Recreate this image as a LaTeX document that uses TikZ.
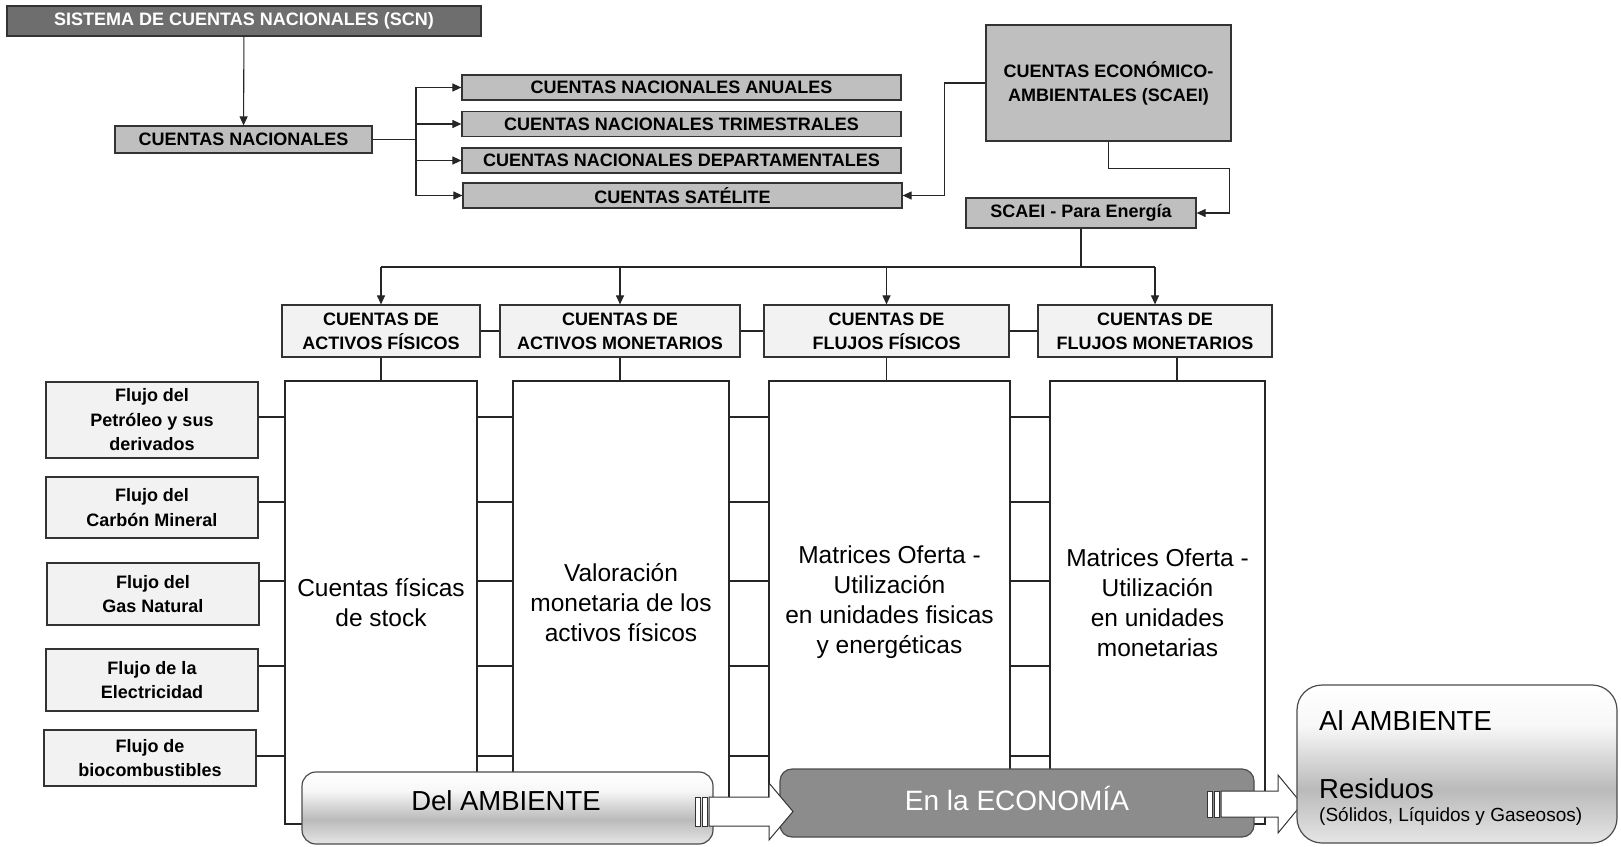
\documentclass[tikz,border=0pt]{standalone}
\usepackage{fontspec}
\setmainfont{Liberation Sans}
\usetikzlibrary{arrows.meta}

\pgfdeclareverticalshading{tubo}{100bp}{color(0bp)=(black!10); color(25bp)=(black!10); color(42bp)=(black!27); color(62bp)=(black!3); color(75bp)=(white); color(100bp)=(white)}

\tikzset{
  caja/.style={draw=black!80, line width=1.2pt, inner sep=0pt, align=center,
    font=\fontsize{18}{24}\selectfont\bfseries},
  gris/.style={caja, fill=black!25},
  oscura/.style={caja, fill=black!57, text=white},
  clara/.style={caja, fill=black!5},
  grande/.style={draw=black!85, line width=1.1pt, fill=white, inner sep=0pt, align=center,
    font=\fontsize{24.5}{30}\selectfont},
  linea/.style={draw=black!85, line width=1.1pt},
  flecha/.style={linea, -{Triangle[length=9pt,width=8pt]}},
  tira/.style={draw=black!80, line width=1pt, fill=white},
}

\begin{document}
\begin{tikzpicture}[x=1pt,y=-1pt]
\useasboundingbox (0,0) rectangle (1621,846);

% cuentas nacionales
\node[oscura, minimum width=474pt, minimum height=30pt] (scn) at (244,21) {SISTEMA DE CUENTAS NACIONALES (SCN)};
\node[gris, minimum width=257pt, minimum height=27pt] (cn) at (243.5,139.5) {CUENTAS NACIONALES};
\node[gris, minimum width=439pt, minimum height=25pt] (anual) at (681.5,87.5) {CUENTAS NACIONALES ANUALES};
\node[gris, minimum width=439pt, minimum height=25pt] (trim) at (681.5,124) {CUENTAS NACIONALES TRIMESTRALES};
\node[gris, minimum width=439pt, minimum height=25pt] (dept) at (681.5,160.5) {CUENTAS NACIONALES DEPARTAMENTALES};
\node[gris, minimum width=439pt, minimum height=25pt] (sat) at (682.5,195.5) {CUENTAS SATÉLITE};
\node[gris, minimum width=245pt, minimum height=116pt] (scaei) at (1108.5,83) {CUENTAS ECONÓMICO-\\AMBIENTALES (SCAEI)};
\node[gris, minimum width=230pt, minimum height=30pt] (pe) at (1081,213) {SCAEI - Para Energía};

\draw[flecha] (scn) -- (cn);
\coordinate (rama) at (416,139.5);
\draw[linea] (cn.east) -- (rama);
\foreach \n in {anual,trim,dept,sat}
  \draw[flecha] (rama) |- (\n.west);
\draw[flecha] (scaei.west) -- ++(-41,0) |- (sat.east);
\draw[flecha] (scaei.south) -- ++(0,27) -| ([xshift=33pt]pe.east) -- (pe.east);

% cuentas del SCAEI
\node[clara, minimum width=198pt, minimum height=52pt] (h1) at (381,331) {CUENTAS DE\\ACTIVOS FÍSICOS};
\node[clara, minimum width=240pt, minimum height=52pt] (h2) at (620,331) {CUENTAS DE\\ACTIVOS MONETARIOS};
\node[clara, minimum width=245pt, minimum height=52pt] (h3) at (886.5,331) {CUENTAS DE\\FLUJOS FÍSICOS};
\node[clara, minimum width=234pt, minimum height=52pt] (h4) at (1155,331) {CUENTAS DE\\FLUJOS MONETARIOS};

\coordinate (bus) at (1081,267);
\draw[linea] (pe.south) -- (bus);
\draw[linea] (h1.north |- bus) -- (h4.north |- bus);
\foreach \h in {h1,h2,h3,h4}
  \draw[flecha] (\h.north |- bus) -- (\h.north);
\draw[linea] (h1.east) -- (h2.west);
\draw[linea] (h2.east) -- (h3.west);
\draw[linea] (h3.east) -- (h4.west);

\node[grande, minimum width=192pt, minimum height=443pt] (bA) at (381,602.5) {Cuentas físicas\\de stock};
\node[grande, minimum width=216pt, minimum height=443pt] (bB) at (621,602.5) {Valoración\\monetaria de los\\activos físicos};
\node[grande, minimum width=241pt, minimum height=443pt] (bC) at (889.5,602.5) {Matrices Oferta -\\Utilización\\en unidades fisicas\\y energéticas};
\node[grande, minimum width=215pt, minimum height=443pt] (bD) at (1157.5,602.5) {Matrices Oferta -\\Utilización\\en unidades\\monetarias};

\draw[linea] (h1.south) -- (h1.south |- bA.north);
\draw[linea] (h2.south) -- (h2.south |- bB.north);
\draw[linea] (h3.south) -- (h3.south |- bC.north);
\draw[linea] ([xshift=22pt]h4.south) -- ([xshift=22pt]h4.south |- bD.north);

% flujos
\node[clara, font=\fontsize{18}{24.5}\selectfont\bfseries, minimum width=212pt, minimum height=76pt] (f1) at (152,420) {Flujo del\\Petróleo y sus\\derivados};
\node[clara, font=\fontsize{18}{24.5}\selectfont\bfseries, minimum width=212pt, minimum height=61pt] (f2) at (152,507.5) {Flujo del\\Carbón Mineral};
\node[clara, font=\fontsize{18}{24.5}\selectfont\bfseries, minimum width=212pt, minimum height=62pt] (f3) at (153,594) {Flujo del\\Gas Natural};
\node[clara, font=\fontsize{18}{24.5}\selectfont\bfseries, minimum width=212pt, minimum height=62pt] (f4) at (152,680) {Flujo de la\\Electricidad};
\node[clara, font=\fontsize{18}{24.5}\selectfont\bfseries, minimum width=212pt, minimum height=56pt] (f5) at (150,758) {Flujo de\\biocombustibles};

\foreach \i/\y in {1/417,2/502,3/581,4/666,5/756} {
  \draw[linea] (f\i.east |- 0,\y) -- (bA.west |- 0,\y);
  \draw[linea] (bA.east |- 0,\y) -- (bB.west |- 0,\y);
  \draw[linea] (bB.east |- 0,\y) -- (bC.west |- 0,\y);
  \draw[linea] (bC.east |- 0,\y) -- (bD.west |- 0,\y);
}

% del ambiente a la economia
\node[draw=black!70, line width=1.2pt, rounded corners=14pt, shading=tubo, minimum width=411pt, minimum height=72pt] (amb) at (507.5,808) {};
\node[font=\fontsize{27.5}{33}\selectfont, inner sep=0pt] (tamb) at (506,801) {Del AMBIENTE};
\node[draw=black!70, line width=1.2pt, rounded corners=12pt, fill=black!45, minimum width=474pt, minimum height=68pt] (eco) at (1017,803) {};
\node[font=\fontsize{28}{33}\selectfont, text=white, inner sep=0pt] (teco) at (1017,798) {En la ECONOMÍA};

\draw[tira] (695,797) rectangle (700,826);
\draw[tira] (702,797) rectangle (707,826);
\draw[tira] (709,797) -- (769,797) -- (769,783) -- (793,811.5) -- (769,840) -- (769,826) -- (709,826) -- cycle;

\draw[tira] (1207,791) rectangle (1212,817);
\draw[tira] (1214,791) rectangle (1219,817);
\draw[tira] (1221,791) -- (1278,791) -- (1278,775) -- (1302,804) -- (1278,833) -- (1278,817) -- (1221,817) -- cycle;

\node[draw=black!70, line width=1.2pt, rounded corners=25pt, shading=tubo, minimum width=320pt, minimum height=158pt] (alamb) at (1457,764) {};
\node[anchor=base west, font=\fontsize{27.5}{33}\selectfont, inner sep=0pt] (tal) at (1319,730) {Al AMBIENTE};
\node[anchor=base west, font=\fontsize{27.5}{33}\selectfont, inner sep=0pt] (tres) at (1319,798) {Residuos};
\node[anchor=base west, font=\fontsize{19}{22}\selectfont, inner sep=0pt] (tsol) at (1319,821) {(Sólidos, Líquidos y Gaseosos)};

\end{tikzpicture}
\end{document}
